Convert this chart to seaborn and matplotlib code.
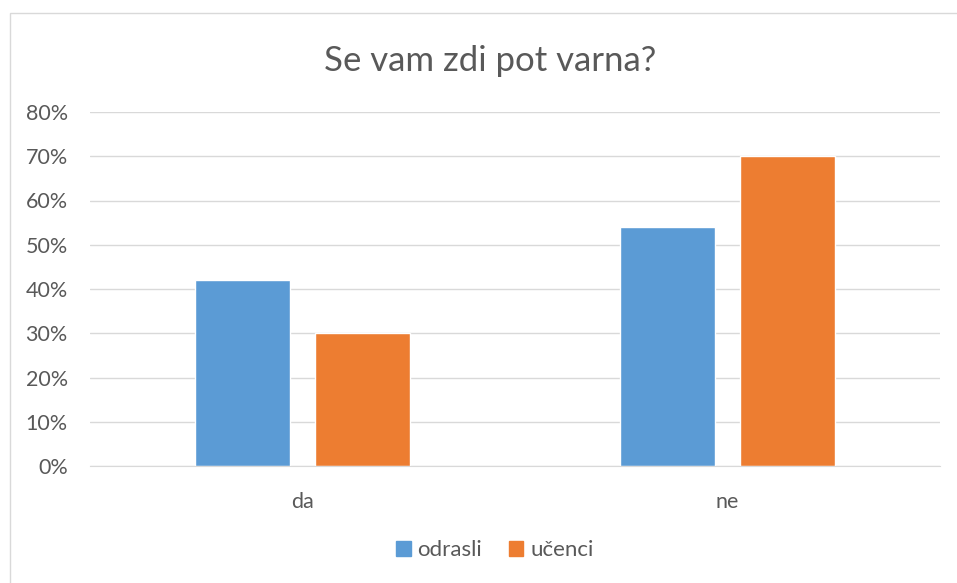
import matplotlib.pyplot as plt
import matplotlib.patches as mpatches
import pandas as pd
import seaborn as sns
from matplotlib.ticker import PercentFormatter

categories = ["da", "ne"]
series = ["odrasli", "učenci"]
odrasli = [0.42, 0.54]
ucenci = [0.30, 0.70]
colors = ["#5B9BD5", "#ED7D31"]
text_color = "#595959"

df = pd.DataFrame({
    "odgovor": categories * 2,
    "skupina": [series[0]] * 2 + [series[1]] * 2,
    "delez": odrasli + ucenci,
})

sns.set_style("white")
plt.rcParams["font.family"] = ["Lato", "DejaVu Sans"]

fig = plt.figure(figsize=(9.57, 5.83), dpi=100)
ax = fig.add_axes([90 / 957, 1 - 466 / 583, 850 / 957, 354 / 583])

sns.barplot(data=df, x="odgovor", y="delez", hue="skupina", order=categories,
            hue_order=series, palette=colors, width=0.569, gap=0.215,
            saturation=1, ax=ax, legend=False)

ax.set_ylim(0, 0.8)
ax.set_xlim(-0.5, 1.5)
ax.set_yticks([i / 10 for i in range(9)])
ax.yaxis.set_major_formatter(PercentFormatter(1.0, decimals=0))
ax.grid(axis="y", color="#D9D9D9", linewidth=1)
ax.set_axisbelow(True)
for s in ["top", "right", "left"]:
    ax.spines[s].set_visible(False)
ax.spines["bottom"].set_color("#D9D9D9")
ax.tick_params(axis="both", length=0, labelsize=15.5, colors=text_color)
ax.tick_params(axis="x", pad=19)
ax.tick_params(axis="y", pad=16)
ax.set_xlabel("")
ax.set_ylabel("")

fig.text(490 / 957, 1 - 61 / 583, "Se vam zdi pot varna?", ha="center", va="center",
         fontsize=25, color=text_color)

handles = [mpatches.Patch(color=c, label=s) for c, s in zip(colors, series)]
fig.legend(handles=handles, loc="center", bbox_to_anchor=(495 / 957, 1 - 550 / 583),
           ncol=2, frameon=False, fontsize=16, handlelength=0.65, handleheight=0.65,
           handletextpad=0.3, columnspacing=1.2, labelcolor=text_color)

# chart border (Excel style)
fig.patches.append(mpatches.Rectangle((10 / 957, -0.01), 1.0, 1 - 13 / 583 + 0.01,
                                      transform=fig.transFigure, fill=False,
                                      edgecolor="#D9D9D9", linewidth=1))

fig.savefig("out.png", dpi=100)
